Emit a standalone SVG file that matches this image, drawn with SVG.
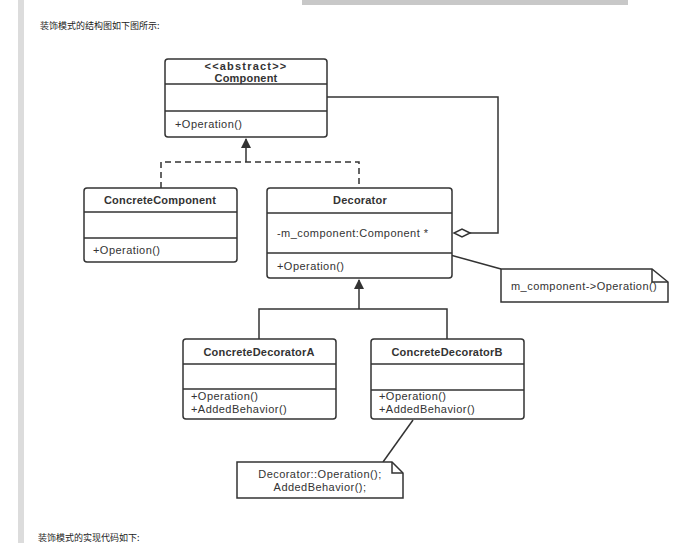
<svg xmlns="http://www.w3.org/2000/svg" width="679" height="543" viewBox="0 0 679 543">
<defs>
<style>
.box{fill:#fff;stroke:#333;stroke-width:1.5}
.ln{fill:none;stroke:#333;stroke-width:1.5}
.dash{fill:none;stroke:#333;stroke-width:1.5;stroke-dasharray:6,4}
.t{font-family:"Liberation Sans",Arial,sans-serif;font-size:11px;fill:#333;letter-spacing:0.45px}
.b{font-weight:bold;text-anchor:middle;letter-spacing:0.2px}
.cn{font-family:"Noto Sans CJK SC",sans-serif;font-size:9px;fill:#222}
</style>
<marker id="tri" markerWidth="10" markerHeight="14" refX="9" refY="5" orient="auto" markerUnits="userSpaceOnUse">
<path d="M0,0 L10,5 L0,10 Z" fill="#333"/>
</marker>
</defs>
<rect width="679" height="543" fill="#fff"/>
<rect x="18" y="0" width="6" height="543" fill="#dcdcdc"/>
<rect x="302" y="0" width="326" height="5" fill="#c8c8c8"/>
<text class="cn" x="40" y="29">装饰模式的结构图如下图所示:</text>
<text class="cn" x="38" y="541">装饰模式的实现代码如下:</text>

<g id="connectors">
<path class="dash" d="M161,188 V162 H359 V188"/>
<path class="ln" d="M246,162 V139" marker-end="url(#tri)"/>
<path class="ln" d="M259,339 V309 H447 V339"/>
<path class="ln" d="M359,309 V280" marker-end="url(#tri)"/>
<path class="ln" d="M327,97 H498 V233 H470"/>
<path d="M470,233 L462,229 L454,233 L462,237 Z" fill="#fff" stroke="#333" stroke-width="1.5"/>
<path class="ln" d="M425,248 L501,269"/>
<path class="ln" d="M413,420 L383,462"/>
</g>

<g id="component">
<rect class="box" x="165" y="59" width="162" height="78" rx="3"/>
<path class="ln" d="M165,84 H327 M165,111 H327"/>
<text class="t b" x="246" y="70" style="letter-spacing:1.2px">&lt;&lt;abstract&gt;&gt;</text>
<text class="t b" x="246" y="82">Component</text>
<text class="t" x="175" y="128">+Operation()</text>
</g>

<g id="concreteComponent">
<rect class="box" x="84" y="188" width="153" height="74" rx="3"/>
<path class="ln" d="M84,212 H237 M84,238 H237"/>
<text class="t b" x="160" y="204">ConcreteComponent</text>
<text class="t" x="93" y="254">+Operation()</text>
</g>

<g id="decorator">
<rect class="box" x="267" y="188" width="185" height="90" rx="3"/>
<path class="ln" d="M267,213 H452 M267,253 H452"/>
<text class="t b" x="360" y="204">Decorator</text>
<text class="t" x="277" y="237">-m_component:Component *</text>
<text class="t" x="277" y="270">+Operation()</text>
</g>

<g id="note1">
<path class="box" d="M501,269 H652 L668,282 V302 H501 Z"/>
<path class="ln" d="M652,269 V282 H668"/>
<text class="t" x="511" y="290">m_component-&gt;Operation()</text>
</g>

<g id="concreteDecoratorA">
<rect class="box" x="183" y="339" width="153" height="80" rx="3"/>
<path class="ln" d="M183,364 H336 M183,389 H336"/>
<text class="t b" x="259" y="356">ConcreteDecoratorA</text>
<text class="t" x="191" y="400">+Operation()</text>
<text class="t" x="191" y="413">+AddedBehavior()</text>
</g>

<g id="concreteDecoratorB">
<rect class="box" x="371" y="339" width="153" height="80" rx="3"/>
<path class="ln" d="M371,364 H524 M371,390 H524"/>
<text class="t b" x="447" y="356">ConcreteDecoratorB</text>
<text class="t" x="379" y="400">+Operation()</text>
<text class="t" x="379" y="413">+AddedBehavior()</text>
</g>

<g id="note2">
<path class="box" d="M237,462 H392 L403,473 V498 H237 Z"/>
<path class="ln" d="M392,462 V473 H403"/>
<text class="t" x="320" y="478" text-anchor="middle">Decorator::Operation();</text>
<text class="t" x="320" y="491" text-anchor="middle">AddedBehavior();</text>
</g>
</svg>
